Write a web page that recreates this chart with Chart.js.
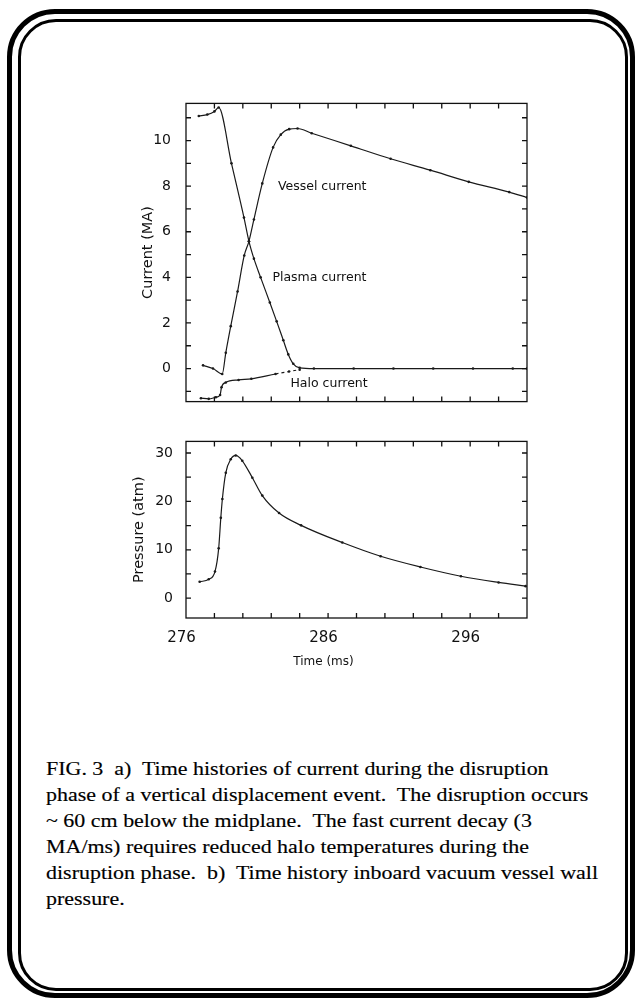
<!DOCTYPE html>
<html>
<head>
<meta charset="utf-8">
<script src="https://cdn.jsdelivr.net/npm/chart.js@4.4.1/dist/chart.umd.min.js"></script>
<style>
  html,body{margin:0;padding:0;background:#fff;}
  body{width:636px;height:999px;position:relative;overflow:hidden;}
  .outer{position:absolute;left:7px;top:9px;width:627.5px;height:989px;box-sizing:border-box;border:5px solid #000;border-radius:48px;}
  .inner{position:absolute;left:17.5px;top:18.5px;width:610.5px;height:972px;box-sizing:border-box;border:3px solid #000;border-radius:38px;}
  canvas{position:absolute;left:0;}
  #xtitle{position:absolute;left:323.5px;top:654px;transform:translateX(-50%);font:12px "DejaVu Sans";color:#111;line-height:14px;white-space:nowrap;}
  #caption{position:absolute;left:46px;top:757px;font:18px "Liberation Serif";line-height:25.9px;white-space:pre;color:#000;transform:scaleX(1.22);transform-origin:0 0;-webkit-text-stroke:0.15px #000;}
</style>
</head>
<body>
<div class="outer"></div>
<div class="inner"></div>
<canvas id="topChart" width="560" height="345" style="top:80px"></canvas>
<canvas id="botChart" width="560" height="270" style="top:420px"></canvas>
<div id="xtitle">Time (ms)</div>
<div id="caption">FIG. 3  a)  Time histories of current during the disruption
phase of a vertical displacement event.  The disruption occurs
~ 60 cm below the midplane.  The fast current decay (3
MA/ms) requires reduced halo temperatures during the
disruption phase.  b)  Time history inboard vacuum vessel wall
pressure.</div>
<script>
// ---- data ----
const vesselTime = [277.2, 277.9, 278.55, 278.8, 279.15, 279.63, 280.1, 280.43, 280.78, 281.37, 282.13, 282.67, 283.26, 283.85, 284.85, 287.6, 290.4, 293.2, 295.9, 298.75, 300.0];
const vesselCurrent = [0.14, 0.0, -0.24, 0.69, 1.86, 3.38, 4.96, 5.58, 6.54, 8.12, 9.7, 10.26, 10.5, 10.53, 10.32, 9.77, 9.2, 8.7, 8.19, 7.74, 7.5];

const plasmaTime = [276.9, 277.5, 278.0, 278.3, 279.2, 280.08, 280.43, 280.78, 281.25, 281.9, 282.38, 282.85, 283.2, 283.55, 284.0, 285.0, 287.8, 290.6, 293.4, 296.2, 299.0, 300.0];
const plasmaCurrent = [11.08, 11.14, 11.28, 11.45, 9.0, 6.62, 5.58, 4.82, 4.0, 2.9, 2.07, 1.24, 0.62, 0.21, 0.03, 0.0, 0.0, 0.0, 0.0, 0.0, 0.0, 0.0];

const haloTime = [277.05, 277.6, 278.1, 278.4, 278.5, 278.8, 279.7, 280.6, 282.3, 283.25, 284.0];
const haloCurrent = [-1.3, -1.33, -1.26, -1.16, -0.82, -0.61, -0.5, -0.45, -0.24, -0.13, -0.05];

const pressureTime = [276.96, 277.6, 278.04, 278.3, 278.45, 278.56, 278.8, 279.15, 279.5, 279.96, 280.67, 281.37, 282.55, 284.1, 287.0, 289.7, 292.5, 295.35, 298.0, 299.9];
const pressure = [3.38, 3.9, 5.5, 10.3, 16.6, 20.5, 25.9, 28.7, 29.5, 28.4, 24.9, 21.2, 17.6, 15.05, 11.5, 8.66, 6.44, 4.53, 3.25, 2.48];

const timeTickLabels = [276, 286, 296];
const currentTickLabels = [0, 2, 4, 6, 8, 10];
const pressureTickLabels = [0, 10, 20, 30];
const curveNames = ['Vessel current', 'Plasma current', 'Halo current'];

// ---- helpers ----
const pts = (xs, ys) => xs.map((x, i) => ({x: x, y: ys[i]}));
const LINE = '#1a1a1a';

const frameTicks = {
  id: 'frameTicks',
  afterDatasetsDraw(chart, args, opts) {
    const {ctx, chartArea: a, scales} = chart;
    ctx.save();
    ctx.strokeStyle = '#111';
    ctx.lineWidth = 1.3;
    ctx.strokeRect(a.left, a.top, a.right - a.left, a.bottom - a.top);
    const len = 5;
    ctx.beginPath();
    scales.x.ticks.forEach(t => {
      const px = scales.x.getPixelForValue(t.value);
      if (px <= a.left + 1 || px >= a.right - 1) return;
      ctx.moveTo(px, a.bottom); ctx.lineTo(px, a.bottom - len);
      ctx.moveTo(px, a.top); ctx.lineTo(px, a.top + len);
    });
    scales.y.ticks.forEach(t => {
      const py = scales.y.getPixelForValue(t.value);
      if (py <= a.top + 1 || py >= a.bottom - 1) return;
      ctx.moveTo(a.left, py); ctx.lineTo(a.left + len, py);
      ctx.moveTo(a.right, py); ctx.lineTo(a.right - len, py);
    });
    ctx.stroke();
    ctx.restore();
  }
};

const notes = {
  id: 'notes',
  afterDatasetsDraw(chart, args, opts) {
    if (!opts || !opts.items) return;
    const {ctx, scales} = chart;
    ctx.save();
    ctx.font = '12.5px "DejaVu Sans"';
    ctx.fillStyle = '#111';
    ctx.textAlign = 'left';
    ctx.textBaseline = 'middle';
    opts.items.forEach(it => {
      ctx.fillText(it.text, scales.x.getPixelForValue(it.x), scales.y.getPixelForValue(it.y));
    });
    ctx.restore();
  }
};

function lineDs(data, extra) {
  return Object.assign({
    data: data,
    borderColor: LINE,
    borderWidth: 1.2,
    pointRadius: 1.3,
    pointBackgroundColor: LINE,
    pointBorderWidth: 0,
    cubicInterpolationMode: 'monotone',
    fill: false
  }, extra || {});
}

const tickFont = {family: 'DejaVu Sans', size: 14};
const titleFont = {family: 'DejaVu Sans', size: 14.5};

// ---- top chart: currents ----
new Chart(document.getElementById('topChart'), {
  type: 'line',
  data: {
    datasets: [
      lineDs(pts(vesselTime, vesselCurrent)),
      lineDs(pts(plasmaTime, plasmaCurrent)),
      lineDs(pts(haloTime, haloCurrent), {
        segment: {borderDash: c => (c.p0.parsed.x >= 282.3 ? [3, 3] : undefined)}
      })
    ]
  },
  options: {
    responsive: false,
    animation: false,
    devicePixelRatio: 1,
    layout: {padding: {top: 15, right: 33, bottom: 13, left: 0}},
    plugins: {
      legend: {display: false},
      tooltip: {enabled: false},
      notes: {items: [
        {text: curveNames[0], x: 282.47, y: 7.99},
        {text: curveNames[1], x: 282.08, y: 3.97},
        {text: curveNames[2], x: 283.35, y: -0.66}
      ]}
    },
    scales: {
      x: {
        type: 'linear', min: 276, max: 300,
        ticks: {stepSize: 2, display: false, autoSkip: false},
        grid: {display: false, drawTicks: false},
        border: {display: false},
        afterFit(s) { s.height = 0; }
      },
      y: {
        type: 'linear', min: -1.45, max: 11.63,
        ticks: {
          stepSize: 1, includeBounds: false, autoSkip: false, padding: 15,
          font: tickFont, color: '#111',
          callback: v => (currentTickLabels.includes(v) ? String(v) : '')
        },
        grid: {display: false, drawTicks: false},
        border: {display: false},
        title: {display: true, text: 'Current (MA)', color: '#111', font: titleFont, padding: {top: 139.8, bottom: 0}},
        afterFit(s) { s.width = 186; }
      }
    }
  },
  plugins: [frameTicks, notes]
});

// ---- bottom chart: pressure ----
new Chart(document.getElementById('botChart'), {
  type: 'line',
  data: {
    datasets: [lineDs(pts(pressureTime, pressure))]
  },
  options: {
    responsive: false,
    animation: false,
    devicePixelRatio: 1,
    layout: {padding: {top: 11, right: 33, bottom: 0, left: 0}},
    plugins: {legend: {display: false}, tooltip: {enabled: false}},
    scales: {
      x: {
        type: 'linear', min: 276, max: 300,
        ticks: {
          stepSize: 2, autoSkip: false, maxRotation: 0, padding: 11, labelOffset: -4.5,
          font: {family: 'DejaVu Sans', size: 15}, color: '#111',
          callback: v => (timeTickLabels.includes(v) ? String(v) : '')
        },
        grid: {display: false, drawTicks: false},
        border: {display: false},
        afterFit(s) { s.height = 72; }
      },
      y: {
        type: 'linear', min: -4.1, max: 32.4,
        ticks: {
          stepSize: 5, includeBounds: false, autoSkip: false, padding: 13,
          font: tickFont, color: '#111',
          callback: v => (pressureTickLabels.includes(v) ? String(v) : '')
        },
        grid: {display: false, drawTicks: false},
        border: {display: false},
        title: {display: true, text: 'Pressure (atm)', color: '#111', font: titleFont, padding: {top: 130.8, bottom: 0}},
        afterFit(s) { s.width = 186; }
      }
    }
  },
  plugins: [frameTicks]
});
</script>
</body>
</html>
